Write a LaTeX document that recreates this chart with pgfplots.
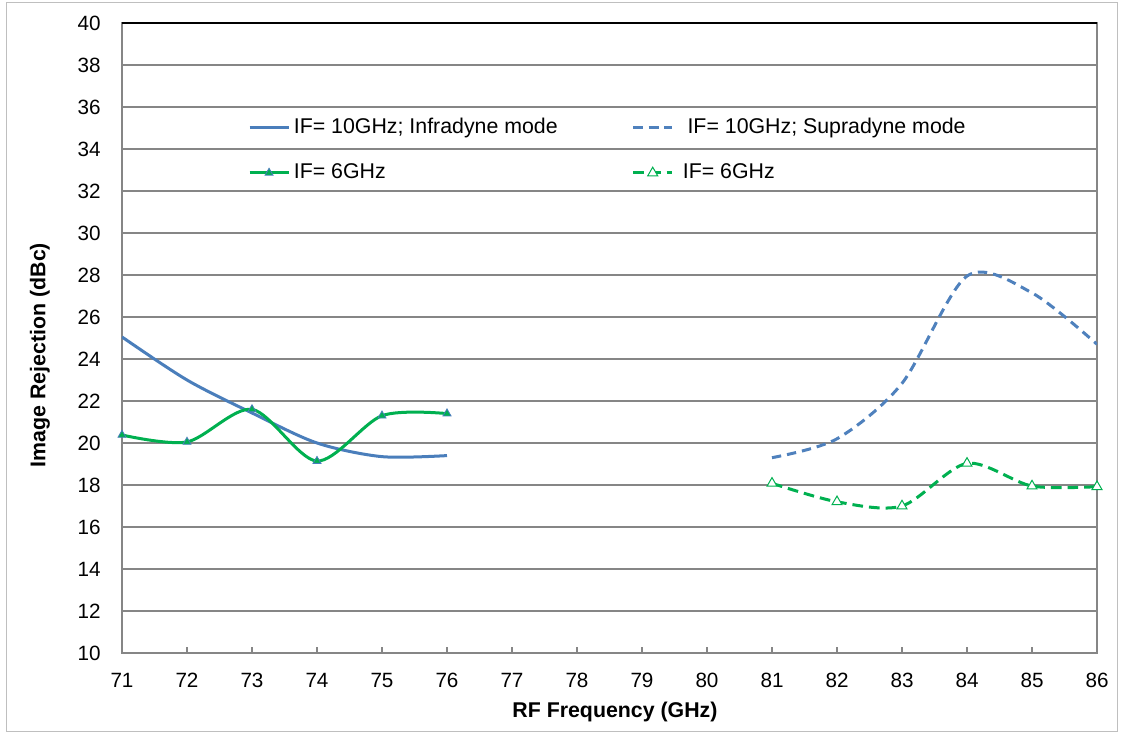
\documentclass[border=0pt]{standalone}
\usepackage{pgfplots}
\pgfplotsset{compat=1.18}
\usepackage{fontspec}
\setmainfont{Liberation Sans}
\definecolor{blueA}{HTML}{4A7EBB}
\definecolor{blueB}{HTML}{4F81BD}
\definecolor{greenA}{HTML}{00B050}
\definecolor{gridc}{HTML}{868686}
\begin{document}
\begin{tikzpicture}
\useasboundingbox (-91.5pt,-61.5pt) rectangle (750pt,489.75pt);
\draw[color=black!25, line width=0.75pt] (-86.25pt,-59.25pt) rectangle (746.25pt,487.5pt);
\begin{axis}[
  at={(0,0)}, anchor=south west, scale only axis,
  width=731.25pt, height=472.5pt,
  xmin=71, xmax=86, ymin=10, ymax=40,
  xtick={71,...,86}, ytick={10,12,...,40},
  ymajorgrids, grid style={gridc, line width=0.9pt},
  axis line style={gridc, line width=1.2pt},
  xtick align=inside, xtick pos=left,
  major tick length=4.5pt,
  xtick style={gridc, line width=0.9pt},
  ytick style={draw=none},
  /pgf/number format/assume math mode=true,
  ticklabel style={font=\fontsize{15.5}{18}\selectfont},
  xticklabel style={anchor=north, inner sep=0pt, yshift=-15pt},
  yticklabel style={anchor=east, inner sep=0pt, xshift=-15.75pt},
  xlabel={RF Frequency (GHz)},
  ylabel={Image Rejection (dBc)},
  xlabel style={at={(axis description cs:0.5056,-0.0937)}, anchor=center, font=\bfseries\fontsize{16}{18}\selectfont},
  ylabel style={at={(axis description cs:-0.0841,0.473)}, anchor=center, font=\bfseries\fontsize{16}{18}\selectfont},
  legend columns=2,
  legend cell align=left,
  legend style={at={(axis description cs:0.1292,0.8487)}, anchor=north west, draw=none, fill=none, inner sep=0pt, column sep=0pt, row sep=19.75pt,
    nodes={inner sep=0pt, text height=11pt, text depth=3pt, font=\fontsize{16}{18}\selectfont}},
  legend image code/.code={\draw[mark repeat=2,mark phase=2] plot coordinates {(0pt,0pt) (14.5pt,0pt) (29pt,0pt)};},
]
\addplot[blueA, line width=2.25pt, smooth] coordinates {(71,25.05)(72,23.0)(73,21.43)(74,20.0)(75,19.35)(76,19.4)};
\addlegendentry{\makebox[256.5pt][l]{\hspace{3pt}IF= 10GHz; Infradyne mode}}
\addplot[blueB, line width=2.25pt, smooth, dash pattern=on 7pt off 4.5pt] coordinates {(81,19.3)(82,20.2)(83,22.84)(84,27.95)(85,27.15)(86,24.7)};
\addlegendentry{\hspace{10.5pt}IF= 10GHz; Supradyne mode}
\addplot[greenA, line width=2.25pt, smooth, mark=triangle*, mark size=3.5pt, mark options={solid, fill=greenA, draw=blueA, line width=0.6pt}] coordinates {(71,20.38)(72,20.05)(73,21.6)(74,19.14)(75,21.3)(76,21.4)};
\addlegendentry{\makebox[256.5pt][l]{\hspace{3pt}IF= 6GHz}}
\addplot[greenA, line width=2.25pt, smooth, dash pattern=on 8pt off 4.5pt, mark=triangle*, mark size=4.3pt, mark options={solid, fill=white, draw=greenA, line width=0.75pt}] coordinates {(81,18.08)(82,17.2)(83,17.0)(84,19.03)(85,17.95)(86,17.92)};
\addlegendentry{\hspace{7pt}IF= 6GHz}
\draw[black, line width=1pt] (axis cs:71,40) -- (axis cs:86,40);
\end{axis}
\end{tikzpicture}
\end{document}
